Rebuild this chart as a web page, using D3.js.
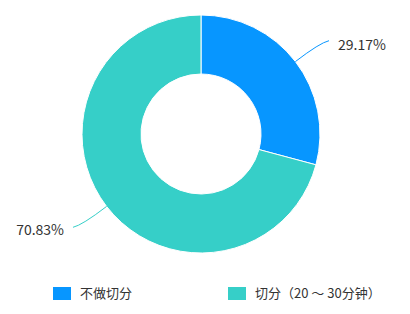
<!DOCTYPE html>
<html><head>
<meta charset="utf-8">
<script src="https://d3js.org/d3.v7.min.js"></script>
<style>
body { margin: 0; background: #fff; font-family: "Noto Sans CJK SC", "Noto Sans", sans-serif; }
</style>
</head>
<body>
<svg id="chart" width="410" height="314"></svg>
<script>
const categories = ["不做切分", "切分（20 ～ 30分钟）"];
const values = [29.17, 70.83];
const labels = ["29.17%", "70.83%"];
const colors = ["#0796ff", "#36cfc8"];

const svg = d3.select("#chart");
const cx = 201, cy = 134;
const outerR = 119, innerR = 60;

const g = svg.append("g").attr("transform", "translate(" + cx + "," + cy + ")");

const pie = d3.pie().sort(null).value(d => d.value);
const arcs = pie(categories.map((c, i) => ({ name: c, value: values[i], label: labels[i] })));
const arc = d3.arc().innerRadius(innerR).outerRadius(outerR);
const color = d3.scaleOrdinal().domain(categories).range(colors);

// slices
g.selectAll("path.slice").data(arcs)
    .join("path")
    .attr("class", "slice")
    .attr("d", arc)
    .attr("fill", d => color(d.data.name))
    .attr("stroke", "#fff")
    .attr("stroke-width", 1);

// label lines - radial then bending out, smoothed
function pt(a, r) { return [Math.sin(a) * r, -Math.cos(a) * r]; }

arcs.forEach(d => {
    const mid = (d.startAngle + d.endAngle) / 2;
    const side = Math.sin(mid) > 0 ? 1 : -1;
    const p0 = pt(mid, outerR);
    const p1 = pt(mid, 150);
    const p2 = [p1[0] + 9 * side, p1[1] - 2 * side];
    g.append("path")
        .attr("d", "M" + p0 + "Q" + p1 + " " + p2)
        .attr("fill", "none")
        .attr("stroke", color(d.data.name))
        .attr("stroke-width", 1);
    g.append("text")
        .attr("x", p2[0] + 9 * side)
        .attr("y", p2[1] + (side > 0 ? 9 : 8))
        .attr("text-anchor", side > 0 ? "start" : "end")
        .attr("font-size", 14)
        .attr("fill", "#333")
        .text(d.data.label);
});

// legend
const legendX = d3.scalePoint().domain(categories).range([53, 228]);
const legend = svg.selectAll("g.legend").data(categories)
    .join("g")
    .attr("class", "legend")
    .attr("transform", d => "translate(" + legendX(d) + ",287)");
legend.append("rect")
    .attr("width", 18).attr("height", 13)
    .attr("fill", d => color(d));
legend.append("text")
    .attr("x", 27).attr("y", 11)
    .attr("font-size", 13)
    .attr("fill", "#333")
    .text(d => d);
</script>
</body>
</html>
